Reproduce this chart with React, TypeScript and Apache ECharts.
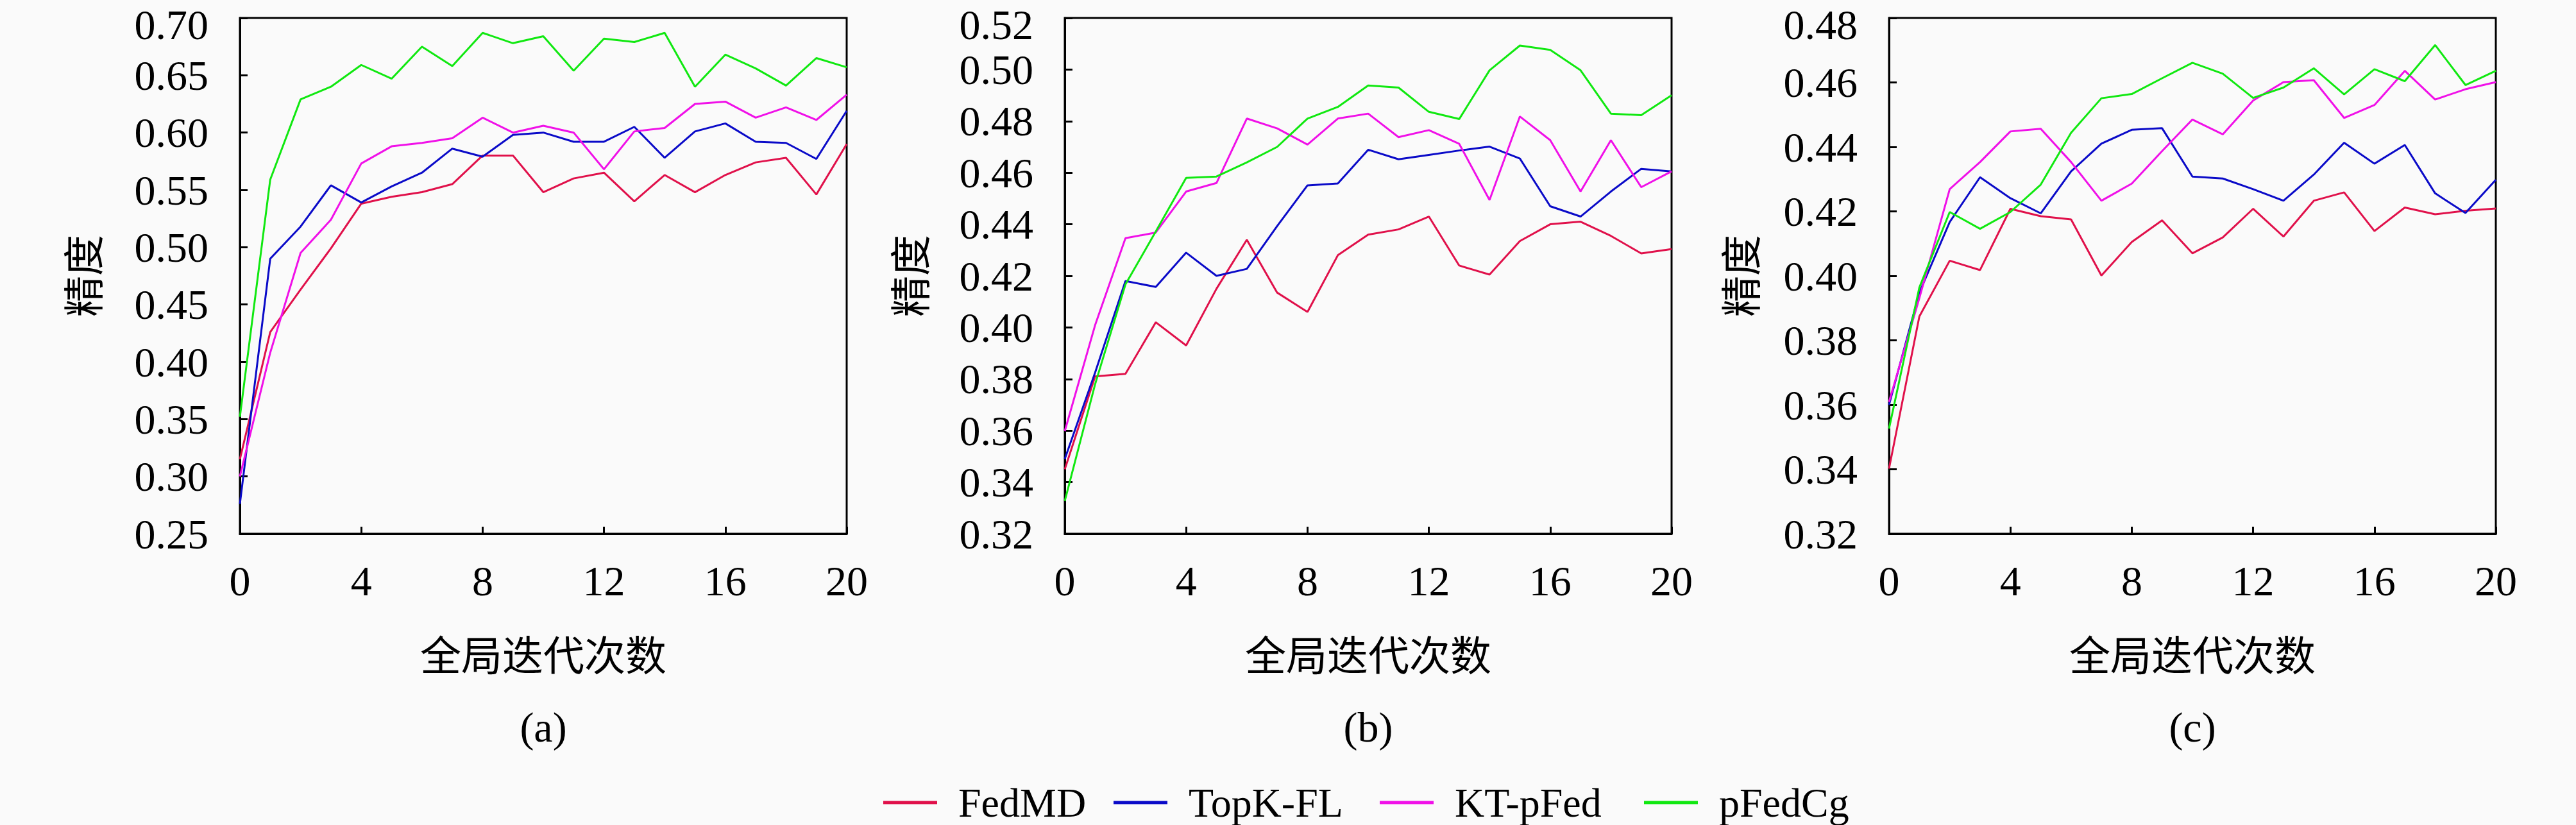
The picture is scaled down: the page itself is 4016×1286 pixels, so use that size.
import React, { useEffect, useRef } from "react";
import * as echarts from "echarts";

const iterations = [0, 1, 2, 3, 4, 5, 6, 7, 8, 9, 10, 11, 12, 13, 14, 15, 16, 17, 18, 19, 20];
const seriesNames = ["FedMD", "TopK-FL", "KT-pFed", "pFedCg"];
const seriesColors = ["#e0104a", "#0a0ac8", "#f010e8", "#10e810"];

// Panel (a)
const fedmdA = [0.315, 0.426, 0.463, 0.499, 0.538, 0.544, 0.548, 0.555, 0.580, 0.580, 0.548, 0.560, 0.565, 0.540, 0.563, 0.548, 0.563, 0.574, 0.578, 0.546, 0.590];
const topkA = [0.276, 0.490, 0.518, 0.554, 0.539, 0.553, 0.565, 0.586, 0.579, 0.598, 0.600, 0.592, 0.592, 0.605, 0.578, 0.601, 0.608, 0.592, 0.591, 0.577, 0.619];
const ktA = [0.300, 0.408, 0.495, 0.524, 0.573, 0.588, 0.591, 0.595, 0.613, 0.600, 0.606, 0.600, 0.568, 0.601, 0.604, 0.625, 0.627, 0.613, 0.622, 0.611, 0.633];
const pfedcgA = [0.352, 0.559, 0.629, 0.640, 0.659, 0.647, 0.675, 0.658, 0.687, 0.678, 0.684, 0.654, 0.682, 0.679, 0.687, 0.640, 0.668, 0.656, 0.641, 0.665, 0.657];

// Panel (b)
const fedmdB = [0.345, 0.381, 0.382, 0.402, 0.393, 0.415, 0.434, 0.4135, 0.406, 0.428, 0.436, 0.438, 0.443, 0.424, 0.4205, 0.4335, 0.440, 0.441, 0.4355, 0.4287, 0.4304];
const topkB = [0.349, 0.3825, 0.418, 0.4157, 0.429, 0.420, 0.4227, 0.4393, 0.4551, 0.4558, 0.4689, 0.4652, 0.4669, 0.4686, 0.4701, 0.4655, 0.447, 0.443, 0.4527, 0.4615, 0.4605];
const ktB = [0.3598, 0.4009, 0.4346, 0.4368, 0.4527, 0.456, 0.481, 0.4772, 0.4709, 0.481, 0.4829, 0.4738, 0.4765, 0.4712, 0.4494, 0.4818, 0.4726, 0.4527, 0.4726, 0.4544, 0.4605];
const pfedcgB = [0.3327, 0.378, 0.4167, 0.4372, 0.458, 0.4585, 0.464, 0.470, 0.481, 0.4855, 0.4938, 0.493, 0.4836, 0.4808, 0.4997, 0.5093, 0.5076, 0.4997, 0.4829, 0.4823, 0.490];

// Panel (c)
const fedmdC = [0.3402, 0.3874, 0.4047, 0.4018, 0.4208, 0.4185, 0.4175, 0.4001, 0.4105, 0.4172, 0.407, 0.4119, 0.4208, 0.4122, 0.4233, 0.4259, 0.4139, 0.4212, 0.4191, 0.4202, 0.4209];
const topkC = [0.360, 0.3948, 0.4167, 0.4306, 0.4241, 0.4194, 0.4324, 0.441, 0.4453, 0.4458, 0.4308, 0.4302, 0.4269, 0.4233, 0.4314, 0.4413, 0.4348, 0.4406, 0.4256, 0.4195, 0.4298];
const ktC = [0.3609, 0.3931, 0.4269, 0.4353, 0.4448, 0.4456, 0.4353, 0.4233, 0.4286, 0.4387, 0.4485, 0.4439, 0.4544, 0.4601, 0.4607, 0.449, 0.453, 0.4636, 0.4547, 0.4579, 0.4601];
const pfedcgC = [0.3526, 0.3964, 0.4198, 0.4146, 0.4198, 0.4283, 0.4444, 0.4551, 0.4564, 0.4613, 0.4661, 0.4627, 0.4552, 0.4584, 0.4644, 0.4563, 0.4641, 0.4604, 0.4716, 0.4592, 0.4636];

const panelData = [
  [fedmdA, topkA, ktA, pfedcgA],
  [fedmdB, topkB, ktB, pfedcgB],
  [fedmdC, topkC, ktC, pfedcgC],
];
const yMins = [0.25, 0.32, 0.32];
const yMaxs = [0.70, 0.52, 0.48];
const yIntervals = [0.05, 0.02, 0.02];
const xTicks = { min: 0, max: 20, interval: 4 };
const panelLabels = ["(a)", "(b)", "(c)"];
const yAxisTitle = "精度";
const xAxisTitle = "全局迭代次数";

const SERIF = "'Liberation Serif', 'DejaVu Serif', serif";
const CJK = "'Noto Sans CJK SC', sans-serif";

export default function App() {
  const ref = useRef<HTMLDivElement>(null);

  useEffect(() => {
    if (!ref.current) return;
    const chart = echarts.init(ref.current, undefined, { renderer: "svg" });

    const gridLefts = [374, 1660, 2945];
    const gridWidth = 946;
    const gridTop = 28;
    const gridHeight = 804;
    const yNameGaps = [216, 213, 203];

    const grids = gridLefts.map((left) => ({
      left,
      top: gridTop,
      width: gridWidth,
      height: gridHeight,
      outerBoundsMode: "none",
      containLabel: false,
      show: true,
      borderColor: "#000",
      borderWidth: 3,
      backgroundColor: "transparent",
    }));

    const xAxes = gridLefts.map((_, i) => ({
      type: "value",
      gridIndex: i,
      min: xTicks.min,
      max: xTicks.max,
      interval: xTicks.interval,
      name: xAxisTitle,
      nameLocation: "middle",
      nameGap: 153,
      nameTextStyle: { fontFamily: CJK, fontSize: 64, color: "#000" },
      axisLine: { show: true, lineStyle: { color: "#000", width: 3 } },
      axisTick: { show: true, inside: true, length: 11, lineStyle: { color: "#000", width: 3 } },
      axisLabel: { fontFamily: SERIF, fontSize: 66, lineHeight: 50, color: "#000", margin: 48 },
      splitLine: { show: false },
    }));

    const yAxes = gridLefts.map((_, i) => ({
      type: "value",
      gridIndex: i,
      min: yMins[i],
      max: yMaxs[i],
      interval: yIntervals[i],
      name: yAxisTitle,
      nameLocation: "middle",
      nameRotate: 90,
      nameGap: yNameGaps[i],
      nameTextStyle: { fontFamily: CJK, fontSize: 64, color: "#000" },
      axisLine: { show: true, lineStyle: { color: "#000", width: 3 } },
      axisTick: { show: true, inside: true, length: 12, lineStyle: { color: "#000", width: 3 } },
      axisLabel: {
        fontFamily: SERIF,
        fontSize: 66,
        lineHeight: 48,
        color: "#000",
        margin: 49,
        formatter: (v: number) =>
          Math.abs(v - yMaxs[i]) < 1e-9 ? "{top|" + v.toFixed(2) + "}" : v.toFixed(2),
        rich: {
          top: {
            fontFamily: SERIF,
            fontSize: 66,
            lineHeight: 48,
            color: "#000",
            padding: [20, 0, 0, 0],
          },
        },
      },
      splitLine: { show: false },
    }));

    const series: any[] = [];
    panelData.forEach((panel, p) => {
      panel.forEach((vals, s) => {
        series.push({
          type: "line",
          name: seriesNames[s],
          xAxisIndex: p,
          yAxisIndex: p,
          data: iterations.map((x, k) => [x, vals[k]]),
          symbol: "none",
          showSymbol: false,
          lineStyle: { color: seriesColors[s], width: 3 },
          itemStyle: { color: seriesColors[s] },
          z: 2 + s,
        });
      });
    });

    const legendLefts = [1372, 1731, 2146, 2558];
    const legends = seriesNames.map((name, i) => ({
      data: [name],
      left: legendLefts[i],
      top: 1214,
      itemWidth: 84,
      itemHeight: 5,
      itemGap: 0,
      icon: "rect",
      itemStyle: { color: seriesColors[i] },
      textStyle: {
        fontFamily: SERIF,
        fontSize: 64,
        lineHeight: 52,
        color: "#000",
        padding: [0, 0, 0, 28],
      },
      selectedMode: false,
    }));

    const graphics = panelLabels.map((label, i) => ({
      type: "text",
      x: gridLefts[i] + gridWidth / 2,
      y: 1133,
      style: {
        text: label,
        fontFamily: SERIF,
        fontSize: 66,
        fill: "#000",
        textAlign: "center",
        textVerticalAlign: "middle",
      },
    }));

    chart.setOption({
      animation: false,
      backgroundColor: "#fafafa",
      grid: grids,
      xAxis: xAxes,
      yAxis: yAxes,
      series,
      legend: legends,
      graphic: graphics,
    });

    return () => chart.dispose();
  }, []);

  return (
    <div
      ref={ref}
      style={{ position: "fixed", left: 0, top: 0, width: 4016, height: 1286 }}
    />
  );
}
